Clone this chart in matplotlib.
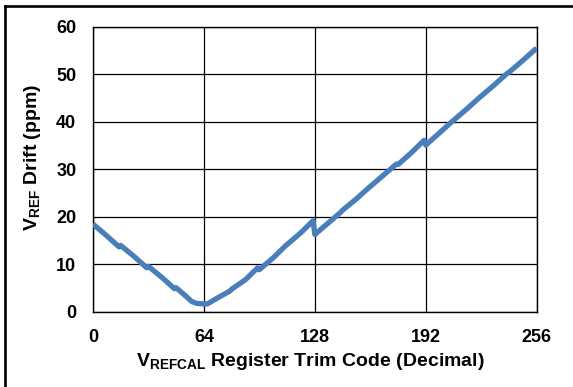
import numpy as np
import matplotlib.pyplot as plt
from matplotlib.lines import Line2D

# Data (trim code vs drift), with the small steps at 16-code boundaries
code = [0, 8, 15, 16, 24, 31, 32, 40, 47, 48, 54, 57, 60, 64, 66, 72, 79, 80, 88, 95, 96,
        104, 111, 112, 120, 127, 128, 136, 143, 144, 152, 159, 160, 168, 175, 176, 184, 191,
        192, 200, 207, 208, 216, 223, 224, 232, 239, 240, 248, 256]
drift = [18.5, 16.0, 13.7, 14.0, 11.6, 9.3, 9.6, 7.2, 4.9, 5.1, 3.2, 2.2, 1.8, 1.7, 1.7, 3.0, 4.4, 4.8, 6.8, 9.3, 8.9,
         11.4, 13.9, 14.2, 16.7, 19.2, 16.3, 18.8, 21.0, 21.4, 23.8, 26.1, 26.4, 28.9, 31.1, 31.0, 33.6, 36.1,
         35.1, 37.7, 40.0, 40.3, 42.8, 45.1, 45.4, 47.9, 50.2, 50.4, 52.9, 55.5]

xticks = [0, 64, 128, 192, 256]
yticks = [0, 10, 20, 30, 40, 50, 60]

plt.rcParams['font.family'] = 'Liberation Sans'
plt.rcParams['font.weight'] = 'bold'
plt.rcParams['mathtext.fontset'] = 'custom'
plt.rcParams['mathtext.bf'] = 'Liberation Sans:bold'
plt.rcParams['mathtext.rm'] = 'Liberation Sans:bold'

fontl = 13
fontlab = 14

fig = plt.figure(figsize=(5.73, 3.87), dpi=100)
ax = fig.add_axes([0.1623, 0.1938, 0.7743, 0.7372])

ax.plot(code, drift, '-', color='#4a7ebb', lw=3.8, solid_capstyle='butt', zorder=3)

ax.set_xlim(0, 256)
ax.set_ylim(0, 60)
ax.set_xticks(xticks)
ax.set_yticks(yticks)
ax.grid(True, color='black', lw=0.9)
ax.tick_params(axis='both', length=0, labelsize=fontl)
ax.tick_params(axis='x', pad=12)
ax.tick_params(axis='y', pad=12)
for lab in ax.get_xticklabels() + ax.get_yticklabels():
    lab.set_fontweight('bold')
for sp in ax.spines.values():
    sp.set_color('black')
    sp.set_linewidth(1.0)

# Axis labels
fig.text(310/573, 1 - 362/387, r'$\mathbf{V}_{\mathbf{REFCAL}}$ Register Trim Code (Decimal)',
         ha='center', va='center', fontsize=fontlab, fontweight='bold')
fig.text(33/573, 1 - 157/387, r'$\mathbf{V}_{\mathbf{REF}}$ Drift (ppm)',
         ha='center', va='center', rotation=90, fontsize=fontlab, fontweight='bold')

# Outer frame (only top and left edges visible)
fig.add_artist(Line2D([5/573, 1.0], [1 - 5.5/387, 1 - 5.5/387], color='black', lw=1.9,
                      transform=fig.transFigure))
fig.add_artist(Line2D([5/573, 5/573], [0.0, 1 - 5.5/387], color='black', lw=1.9,
                      transform=fig.transFigure))

fig.savefig('out.png', dpi=100)
plt.close(fig)
